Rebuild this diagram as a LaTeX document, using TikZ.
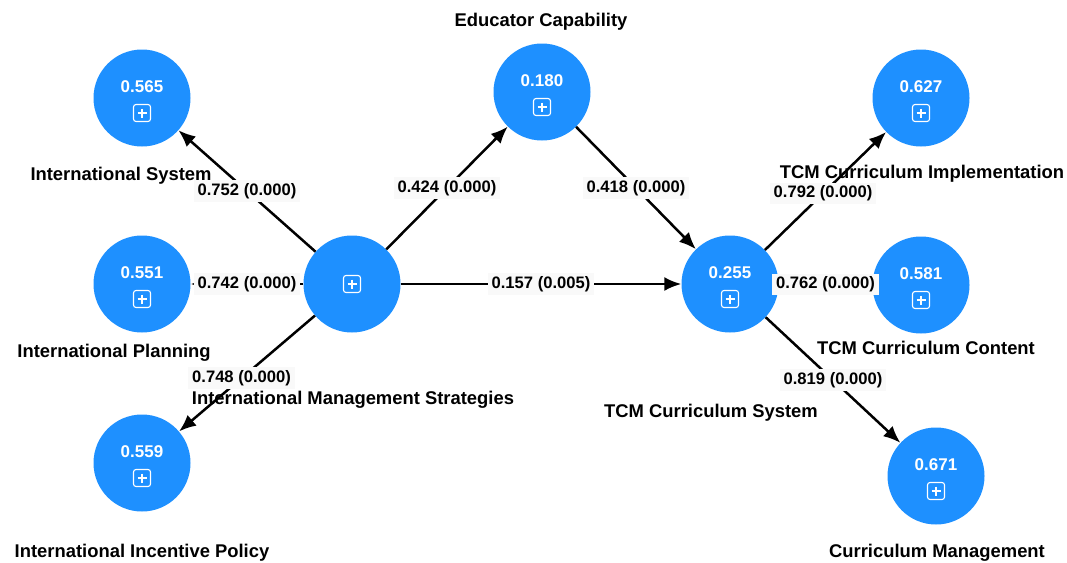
\documentclass[tikz,border=0pt]{standalone}
\usepackage{fontspec}
\setmainfont{Liberation Sans}
\usetikzlibrary{arrows.meta}

\definecolor{latentblue}{RGB}{30,144,255}

\tikzset{
  latent/.style={circle, fill=latentblue, minimum size=97pt, inner sep=0pt},
  score/.style={anchor=base, text=white, font=\bfseries\fontsize{17}{19}\selectfont},
  plusbox/.style={draw=white, line width=1.1pt, rounded corners=2.5pt,
    minimum size=17pt, inner sep=0pt,
    path picture={\draw[white, line width=1.1pt]
      ([yshift=-4pt]path picture bounding box.north) -- ([yshift=4pt]path picture bounding box.south)
      ([xshift=4pt]path picture bounding box.west) -- ([xshift=-4pt]path picture bounding box.east);}},
  link/.style={draw=black, line width=2.5pt, -{Latex[length=17pt,width=14pt]}},
  coef/.style={fill=gray!5, inner xsep=4pt, inner ysep=3pt,
    font=\bfseries\fontsize{16.6}{18}\selectfont},
  lvname/.style={anchor=base, font=\bfseries\fontsize{18.4}{20}\selectfont}
}

\begin{document}
\begin{tikzpicture}[x=1pt, y=-1pt]
        \useasboundingbox (0,0) rectangle (1067,562);
        % construct names
        \node[lvname] (sysL)  at (121,180) {International System};
        \node[lvname] (planL) at (114,357) {International Planning};
        \node[lvname] (incL)  at (142,557) {International Incentive Policy};
        \node[lvname] (imsL)  at (353,404) {International Management Strategies};
        \node[lvname] (ecL)   at (541,27)  {Educator Capability};
        \node[lvname] (tcmL)  at (711,417) {TCM Curriculum System};
        \node[lvname] (implL) at (922,178) {TCM Curriculum Implementation};
        \node[lvname] (contL) at (926,354) {TCM Curriculum Content};
        \node[lvname] (cmL)   at (937,557) {Curriculum Management};
        % latent variables
        \node[latent] (sys)  at (142,98)  {};
        \node[latent] (plan) at (142,284) {};
        \node[latent] (inc)  at (142,463) {};
        \node[latent] (ims)  at (352,284) {};
        \node[latent] (ec)   at (542,92)  {};
        \node[latent] (tcm)  at (730,284) {};
        \node[latent] (impl) at (921,98)  {};
        \node[latent] (cont) at (921,285) {};
        \node[latent] (cm)   at (936,476) {};
        % R squared and expand boxes
        \node[score] at ([yshift=6pt]sys.center)  {0.565};
        \node[score] at ([yshift=6pt]plan.center) {0.551};
        \node[score] at ([yshift=6pt]inc.center)  {0.559};
        \node[score] at ([yshift=6pt]ec.center)   {0.180};
        \node[score] at ([yshift=6pt]tcm.center)  {0.255};
        \node[score] at ([yshift=6pt]impl.center) {0.627};
        \node[score] at ([yshift=6pt]cont.center) {0.581};
        \node[score] at ([yshift=6pt]cm.center)   {0.671};
        \node[plusbox] at ([yshift=-15pt]sys.center)  {};
        \node[plusbox] at ([yshift=-15pt]plan.center) {};
        \node[plusbox] at ([yshift=-15pt]inc.center)  {};
        \node[plusbox] at (ims.center)                {};
        \node[plusbox] at ([yshift=-15pt]ec.center)   {};
        \node[plusbox] at ([yshift=-15pt]tcm.center)  {};
        \node[plusbox] at ([yshift=-15pt]impl.center) {};
        \node[plusbox] at ([yshift=-15pt]cont.center) {};
        \node[plusbox] at ([yshift=-15pt]cm.center)   {};
        % paths
        \draw[link] (ims) -- node[coef] {0.752 (0.000)} (sys);
        \draw[link] (ims) -- node[coef] {0.742 (0.000)} (plan);
        \draw[link] (ims) -- node[coef, pos=0.54] {0.748 (0.000)} (inc);
        \draw[link] (ims) -- node[coef] {0.424 (0.000)} (ec);
        \draw[link] (ec)  -- node[coef] {0.418 (0.000)} (tcm);
        \draw[link] (ims) -- node[coef] {0.157 (0.005)} (tcm);
        \draw[link] (tcm) -- node[coef, pos=0.48] {0.792 (0.000)} (impl);
        \draw[link] (tcm) -- node[coef] {0.762 (0.000)} (cont);
        \draw[link] (tcm) -- node[coef] {0.819 (0.000)} (cm);
    \end{tikzpicture}
\end{document}
